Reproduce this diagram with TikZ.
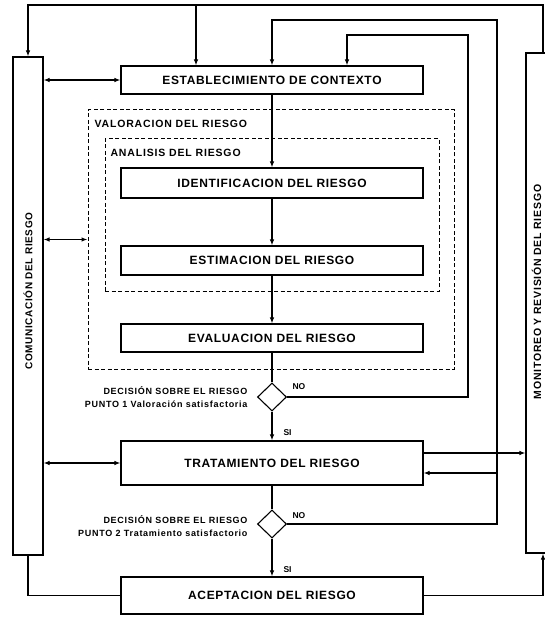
\documentclass[tikz,border=0pt]{standalone}
\usepackage{fontspec}
\setmainfont{Liberation Sans}
\usetikzlibrary{shapes.geometric,arrows.meta}
\begin{document}
\begin{tikzpicture}[x=1pt,y=-1pt,line width=1.1pt,
  box/.style={draw,rectangle,minimum width=302pt,inner sep=0pt,font=\bfseries\fontsize{12}{13}\selectfont\addfontfeature{LetterSpace=5.5}},
  bar/.style={draw,rectangle,inner sep=0pt},
  bartxt/.style={rotate=90,inner sep=0pt,font=\bfseries\fontsize{10}{12}\selectfont\addfontfeature{LetterSpace=6}},
  bartxtr/.style={rotate=90,inner sep=0pt,font=\bfseries\fontsize{10.5}{12}\selectfont\addfontfeature{LetterSpace=7}},
  dbox/.style={draw,rectangle,inner sep=0pt,dash pattern=on 4pt off 2.5pt,line width=1pt},
  ttl/.style={anchor=west,inner sep=0pt,font=\bfseries\fontsize{10.5}{12}\selectfont\addfontfeature{LetterSpace=8}},
  arr/.style={-{Latex[length=6pt,width=4.5pt]}},
  darr/.style={{Latex[length=6pt,width=4.5pt]}-{Latex[length=6pt,width=4.5pt]}},
  dec/.style={diamond,draw,aspect=1,minimum width=29pt,minimum height=28pt,inner sep=0pt},
  lbl/.style={inner sep=0pt,font=\bfseries\fontsize{8.5}{13}\selectfont},
  small/.style={inner sep=0pt,align=right,anchor=east,font=\bfseries\fontsize{9}{13}\selectfont\addfontfeature{LetterSpace=8}}]
\useasboundingbox (0,0) rectangle (544,617);

% side bars
\node[bar,minimum width=30pt,minimum height=498pt] (comm) at (28,306) {};
\node[bartxt] (commtxt) at (28,291) {COMUNICACIÓN DEL RIESGO};
\node[bar,minimum width=34pt,minimum height=500pt] (mon) at (543,303) {};
\node[bartxtr] (montxt) at (536.5,292) {MONITOREO Y REVISIÓN DEL RIESGO};

% dashed groups
\node[dbox,minimum width=366pt,minimum height=259pt] (val) at (271,239.5) {};
\node[ttl] (valtxt) at (94,124) {VALORACION DEL RIESGO};
\node[dbox,minimum width=334pt,minimum height=152pt] (ana) at (272,215) {};
\node[ttl] (anatxt) at (110,153) {ANALISIS DEL RIESGO};

% process boxes
\node[box,minimum height=28pt] (est) at (272,80) {ESTABLECIMIENTO DE CONTEXTO};
\node[box,minimum height=30pt] (ident) at (272,183) {IDENTIFICACION DEL RIESGO};
\node[box,minimum height=29pt] (estim) at (272,260.5) {ESTIMACION DEL RIESGO};
\node[box,minimum height=28pt] (eval) at (272,338) {EVALUACION DEL RIESGO};
\node[dec] (d1) at (272,397) {};
\node[box,minimum height=44pt] (trat) at (272,463) {TRATAMIENTO DEL RIESGO};
\node[dec] (d2) at (272,524) {};
\node[box,minimum height=37pt] (acep) at (272,595.5) {ACEPTACION DEL RIESGO};

% decision labels
\node[small] (d1txt) at (248,397.5) {DECISIÓN SOBRE EL RIESGO\\PUNTO 1 Valoración satisfactoria};
\node[small] (d2txt) at (248,526) {DECISIÓN SOBRE EL RIESGO\\PUNTO 2 Tratamiento satisfactorio};
\node[lbl,anchor=west] (no1) at (292,387) {NO};
\node[lbl,anchor=west] (si1) at (283,433) {SI};
\node[lbl,anchor=west] (no2) at (292,516) {NO};
\node[lbl,anchor=west] (si2) at (283,570) {SI};

% main flow
\draw[arr] (est) -- (ident);
\draw[arr] (ident) -- (estim);
\draw[arr] (estim) -- (eval);
\draw (eval) -- (d1);
\draw[arr] (d1) -- (trat);
\draw (trat) -- (d2);
\draw[arr] (d2) -- (acep);

% feedback loops
\coordinate (nb1) at (468,35);
\coordinate (nb2) at (347,35);
\draw[arr] (d1.east) -| (nb1) -- (nb2) -- (est.north -| nb2);
\coordinate (na1) at (497,20);
\coordinate (na2) at (272,20);
\draw[arr] (d2.east) -| (na1) -- (na2) -- (est.north);
\coordinate (nt) at (497,473);
\draw[arr] (nt) -- (trat.east |- nt);
\coordinate (tm) at (0,453);
\draw[arr] (trat.east |- tm) -- (mon.west |- tm);

% monitoring loop on top
\coordinate (t1) at (0,5);
\coordinate (t3) at (196,5);
\draw[arr] (mon.north) -- (mon.north |- t1) -| (comm.north);
\draw[arr] (t3) -- (est.north -| t3);
\draw[arr] (acep.east) -| (mon.south);
\draw (comm.south) |- (acep.west);

% communication links
\draw[darr] (comm.east |- est.west) -- (est.west);
\draw[darr] (comm.east |- val.west) -- (val.west);
\draw[darr] (comm.east |- trat.west) -- (trat.west);
\end{tikzpicture}
\end{document}
